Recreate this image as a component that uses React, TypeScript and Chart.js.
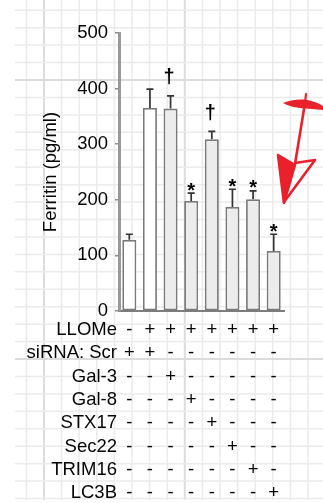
import { useEffect, useRef } from 'react';
import { Chart, registerables } from 'chart.js';

Chart.register(...registerables);

// ---- data ----
const conditions = ['Ctrl', 'LLOMe Scr', 'LLOMe Gal-3', 'LLOMe Gal-8', 'LLOMe STX17', 'LLOMe Sec22', 'LLOMe TRIM16', 'LLOMe LC3B'];
const ferritin = [128, 365, 364, 198, 309, 187, 201, 108];
const ferritinErr = [10, 34, 23, 14, 14, 32, 15, 30];
const significance = ['', '', '†', '*', '†', '*', '*', '*'];
const yMin = 0;
const yMax = 500;
const yStep = 100;
const yTitle = 'Ferritin (pg/ml)';

const rowLabels = ['LLOMe', 'siRNA: Scr', 'Gal-3', 'Gal-8', 'STX17', 'Sec22', 'TRIM16', 'LC3B'];
const rowLLOMe = ['-', '+', '+', '+', '+', '+', '+', '+'];
const rowScr = ['+', '+', '-', '-', '-', '-', '-', '-'];
const rowGal3 = ['-', '-', '+', '-', '-', '-', '-', '-'];
const rowGal8 = ['-', '-', '-', '+', '-', '-', '-', '-'];
const rowSTX17 = ['-', '-', '-', '-', '+', '-', '-', '-'];
const rowSec22 = ['-', '-', '-', '-', '-', '+', '-', '-'];
const rowTRIM16 = ['-', '-', '-', '-', '-', '-', '+', '-'];
const rowLC3B = ['-', '-', '-', '-', '-', '-', '-', '+'];
const tableRows = [rowLLOMe, rowScr, rowGal3, rowGal8, rowSTX17, rowSec22, rowTRIM16, rowLC3B];

// ---- style ----
const FONT = '"Liberation Sans", Arial, sans-serif';
const FS = 18.5;
const ROW_H = 23.3;
const LABEL_PAD = 7.4;
const TEXT = '#050505';
const barFills = ['#ffffff', '#ffffff', '#ececec', '#ececec', '#ececec', '#ececec', '#ececec', '#ececec'];

const paperPlugin = {
  id: 'paper',
  beforeDraw(chart: any) {
    const { ctx, width } = chart;
    ctx.save();
    ctx.fillStyle = '#ffffff';
    ctx.fillRect(0, 0, width, chart.height);
    const left = 15;
    const bottom = 500;
    const dx = 17.6;
    const dy = 17.44;
    for (let k = -3; k < 20; k++) {
      const x = 44 + k * dx;
      if (x < left || x > width) continue;
      const major = k % 8 === 0;
      ctx.strokeStyle = major ? '#dcdcdc' : '#ebebeb';
      ctx.lineWidth = major ? 2 : 1.5;
      ctx.beginPath();
      ctx.moveTo(x, 0);
      ctx.lineTo(x, bottom);
      ctx.stroke();
    }
    for (let k = -5; k < 30; k++) {
      const y = 80 + k * dy;
      if (y < 0 || y > bottom + 1) continue;
      const major = k % 16 === 0;
      ctx.strokeStyle = major ? '#dcdcdc' : '#ebebeb';
      ctx.lineWidth = major ? 2 : 1.5;
      ctx.beginPath();
      ctx.moveTo(left, y);
      ctx.lineTo(width, y);
      ctx.stroke();
    }
    ctx.restore();
  },
};

const errorPlugin = {
  id: 'errorBars',
  afterDatasetsDraw(chart: any) {
    const { ctx } = chart;
    const yScale = chart.scales.y;
    const meta = chart.getDatasetMeta(0);
    ctx.save();
    meta.data.forEach((bar: any, i: number) => {
      const top = yScale.getPixelForValue(ferritin[i] + ferritinErr[i]);
      ctx.strokeStyle = '#333333';
      ctx.lineWidth = 1.7;
      ctx.beginPath();
      ctx.moveTo(bar.x, bar.y);
      ctx.lineTo(bar.x, top);
      ctx.moveTo(bar.x - 3.5, top);
      ctx.lineTo(bar.x + 3.5, top);
      ctx.stroke();
      const mark = significance[i];
      if (mark) {
        ctx.fillStyle = '#000';
        ctx.textAlign = 'center';
        ctx.textBaseline = 'alphabetic';
        if (mark === '*') {
          ctx.font = `bold 20px ${FONT}`;
          ctx.fillText(mark, bar.x, top - 8 + 11.5);
        } else {
          ctx.font = `bold 20px ${FONT}`;
          ctx.fillText(mark, bar.x - 1.5, top - 18 + 5.5);
        }
      }
    });
    ctx.restore();
  },
};

const rowLabelPlugin = {
  id: 'rowLabels',
  afterDraw(chart: any) {
    const { ctx } = chart;
    const xScale = chart.scales.x;
    ctx.save();
    ctx.fillStyle = TEXT;
    ctx.font = `${FS}px ${FONT}`;
    ctx.textAlign = 'right';
    ctx.textBaseline = 'middle';
    rowLabels.forEach((label, r) => {
      const y = xScale.top + LABEL_PAD + ROW_H * (r + 0.5);
      ctx.fillText(label, 117, y);
    });
    ctx.restore();
  },
};

const arrowPlugin = {
  id: 'redArrow',
  afterDraw(chart: any) {
    const { ctx } = chart;
    ctx.save();
    const red = '#e8212b';
    ctx.fillStyle = red;
    ctx.strokeStyle = red;
    ctx.lineJoin = 'round';
    ctx.lineCap = 'round';
    ctx.beginPath();
    ctx.moveTo(283, 103);
    ctx.quadraticCurveTo(292, 99, 304, 99.5);
    ctx.quadraticCurveTo(316, 101, 323, 106);
    ctx.lineTo(323, 110);
    ctx.quadraticCurveTo(312, 109, 300, 108);
    ctx.quadraticCurveTo(290, 107, 283, 103);
    ctx.closePath();
    ctx.fill();
    ctx.lineWidth = 2.2;
    ctx.beginPath();
    ctx.moveTo(306, 94);
    ctx.lineTo(305, 103);
    ctx.stroke();
    ctx.lineWidth = 2.6;
    ctx.beginPath();
    ctx.moveTo(305, 103);
    ctx.lineTo(295, 164);
    ctx.stroke();
    ctx.beginPath();
    ctx.moveTo(295, 163);
    ctx.lineTo(315, 160);
    ctx.lineTo(284, 202);
    ctx.stroke();
    ctx.beginPath();
    ctx.moveTo(278, 155);
    ctx.lineTo(295, 165);
    ctx.lineTo(284, 203);
    ctx.closePath();
    ctx.fill();
    ctx.stroke();
    ctx.restore();
  },
};

export default function App() {
  const canvasRef = useRef<HTMLCanvasElement | null>(null);

  useEffect(() => {
    if (!canvasRef.current) return;
    const chart = new Chart(canvasRef.current, {
      type: 'bar',
      data: {
        labels: conditions,
        datasets: [
          {
            data: ferritin,
            backgroundColor: barFills,
            borderColor: '#7a7a7a',
            borderWidth: 1.8,
            borderSkipped: false,
            barPercentage: 0.68,
            categoryPercentage: 1,
          },
        ],
      },
      options: {
        responsive: false,
        animation: false,
        devicePixelRatio: 1,
        layout: { padding: { left: 0, top: 33, right: 39, bottom: 0 } },
        plugins: { legend: { display: false }, tooltip: { enabled: false } },
        scales: {
          x: {
            grid: { display: false, drawTicks: false },
            border: { display: true, color: '#7c7c7c', width: 2 },
            afterFit: (scale: any) => {
              scale.height = 192;
            },
            ticks: {
              autoSkip: false,
              maxRotation: 0,
              padding: LABEL_PAD,
              color: TEXT,
              font: { family: FONT, size: FS, lineHeight: ROW_H / FS },
              callback: (_v: any, i: number) => tableRows.map((row) => row[i]),
            },
          },
          y: {
            min: yMin,
            max: yMax,
            afterFit: (scale: any) => {
              scale.width = 119;
            },
            grid: { drawOnChartArea: false, drawTicks: true, tickLength: 4, color: '#8c8c8c', lineWidth: 1.5 },
            border: { display: true, color: '#999999', width: 3 },
            ticks: {
              stepSize: yStep,
              padding: 7,
              color: TEXT,
              font: { family: FONT, size: FS },
            },
            title: {
              display: true,
              text: yTitle,
              color: TEXT,
              font: { family: FONT, size: FS },
              padding: { top: 40, bottom: 0 },
            },
          },
        },
      },
      plugins: [paperPlugin, errorPlugin, rowLabelPlugin, arrowPlugin],
    });
    return () => chart.destroy();
  }, []);

  return (
    <div style={{ position: 'fixed', left: 0, top: 0, width: 323, height: 503 }}>
      <canvas ref={canvasRef} width={323} height={503} style={{ width: 323, height: 503, display: 'block' }} />
    </div>
  );
}
